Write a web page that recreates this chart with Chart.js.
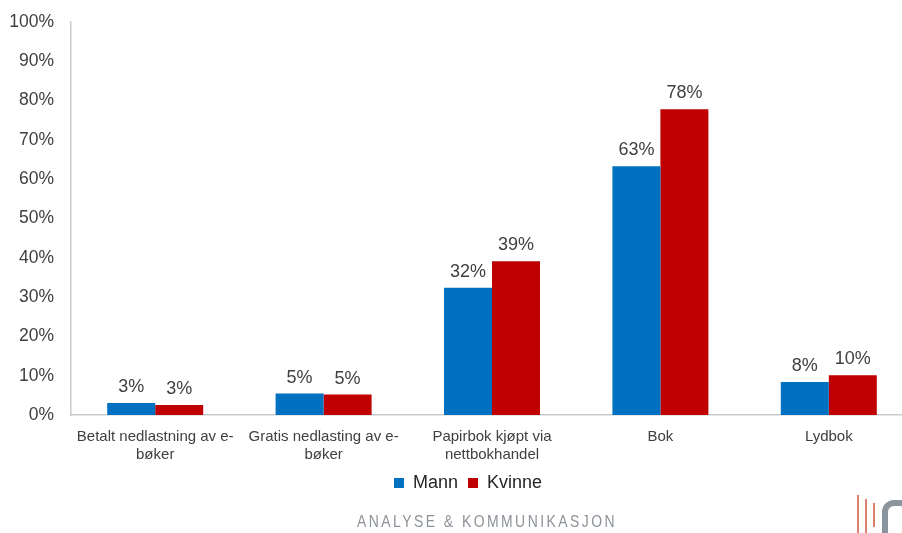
<!DOCTYPE html>
<html>
<head>
<meta charset="utf-8">
<script src="https://cdn.jsdelivr.net/npm/chart.js@4.4.1/dist/chart.umd.min.js"></script>
<style>
  html, body { margin: 0; padding: 0; background: #fff; overflow: hidden; }
  #wrap { position: relative; width: 950px; height: 533px; }
  #c { position: absolute; left: 0; top: 0; }
  #wm { position: absolute; left: 357px; top: 512px; font-family: "Liberation Sans", Arial, sans-serif; font-size: 17px; letter-spacing: 3px; color: #8d9399; white-space: nowrap; transform: scaleX(0.82); transform-origin: 0 0; }
  .rl { position: absolute; width: 2px; background: #d9806c; }
  #gs { position: absolute; left: 882px; top: 500px; width: 30px; height: 40px; border: 6px solid #8a949c; border-radius: 12px 12px 0 0; border-bottom: none; box-sizing: border-box; }
</style>
</head>
<body>
<div id="wrap">
  <canvas id="c" width="950" height="533"></canvas>
  <div id="wm">ANALYSE &amp; KOMMUNIKASJON</div>
  <div class="rl" style="left:857px;top:495px;height:38px;"></div>
  <div class="rl" style="left:865px;top:499px;height:34px;"></div>
  <div class="rl" style="left:873px;top:503px;height:24px;"></div>
  <div id="gs"></div>
</div>
<script>
const categories = [
  ["Betalt nedlastning av e-", "bøker"],
  ["Gratis nedlasting av e-", "bøker"],
  ["Papirbok kjøpt via", "nettbokhandel"],
  ["Bok"],
  ["Lydbok"]
];
const seriesNames = ["Mann", "Kvinne"];
const mannValues = [3.06, 5.45, 32.4, 63.3, 8.4];
const kvinneValues = [2.55, 5.2, 39.1, 77.8, 10.1];
const yTicks = [0, 10, 20, 30, 40, 50, 60, 70, 80, 90, 100];

const FONT = '"Liberation Sans", Arial, sans-serif';
const TEXT = '#404040';

const dataLabels = {
  id: 'dataLabels',
  afterDatasetsDraw(chart) {
    const ctx = chart.ctx;
    ctx.save();
    ctx.font = '18px ' + FONT;
    ctx.fillStyle = TEXT;
    ctx.textAlign = 'center';
    ctx.textBaseline = 'middle';
    chart.data.datasets.forEach((ds, i) => {
      const meta = chart.getDatasetMeta(i);
      meta.data.forEach((bar, j) => {
        ctx.fillText(Math.round(ds.data[j]) + '%', bar.x, bar.y - 16);
      });
    });
    ctx.restore();
  }
};

const legendShift = {
  id: 'legendShift',
  beforeDraw(chart) {
    if (chart.legend) { chart.legend.left += 7; chart.legend.right += 7; }
  }
};

new Chart(document.getElementById('c'), {
  type: 'bar',
  data: {
    labels: categories,
    datasets: [
      { label: seriesNames[0], data: mannValues, backgroundColor: '#0070C0' },
      { label: seriesNames[1], data: kvinneValues, backgroundColor: '#C00000' }
    ]
  },
  options: {
    responsive: false,
    animation: false,
    layout: { padding: { left: 9, right: 37, top: 22, bottom: 31 } },
    datasets: { bar: { categoryPercentage: 0.57, barPercentage: 1.0 } },
    scales: {
      x: {
        afterFit(scale) { scale.height = 49; },
        grid: { display: false, drawTicks: false },
        border: { display: true, color: '#C8CCD0', width: 1.5 },
        ticks: { color: TEXT, font: { family: FONT, size: 15 }, padding: 13, maxRotation: 0, autoSkip: false }
      },
      y: {
        min: 0, max: 100,
        afterFit(scale) { scale.width = 62; scale.paddingTop = 10; scale.paddingBottom = 10; },
        afterBuildTicks(scale) { scale.ticks = yTicks.map(v => ({ value: v })); },
        grid: { display: false, drawTicks: false },
        border: { display: true, color: '#C8CCD0', width: 1.5 },
        ticks: { color: TEXT, font: { family: FONT, size: 17.5 }, padding: 17, callback: v => v + '%' }
      }
    },
    plugins: {
      tooltip: { enabled: false },
      legend: {
        position: 'bottom',
        labels: { color: '#262626', font: { family: FONT, size: 18 }, boxWidth: 10, boxHeight: 10, padding: 10 }
      }
    }
  },
  plugins: [dataLabels, legendShift]
});
</script>
</body>
</html>
